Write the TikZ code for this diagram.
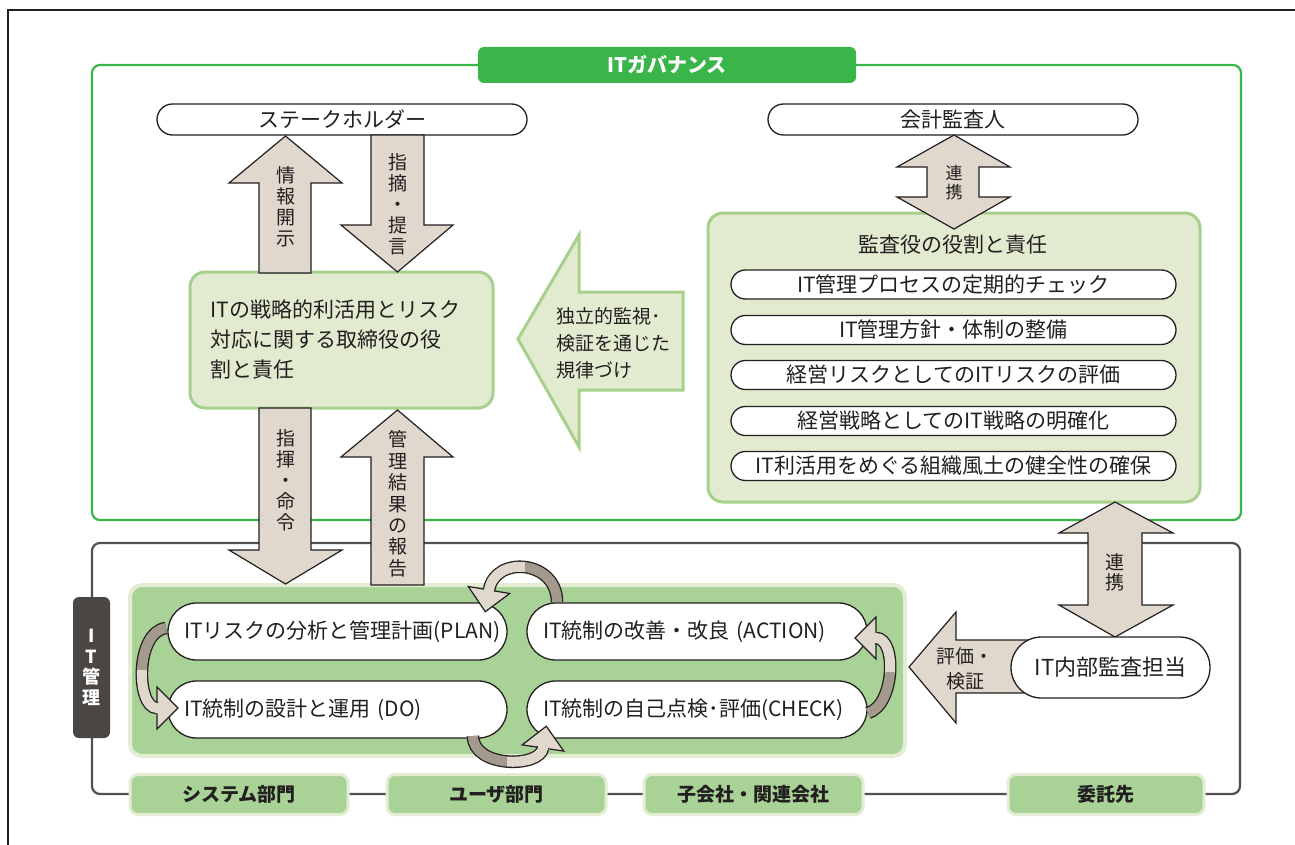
\documentclass[tikz,border=0pt]{standalone}
\usepackage{fontspec}
\setmainfont{Noto Sans CJK JP}
\definecolor{govgreen}{HTML}{3AB54A}
\definecolor{palegreen}{HTML}{E2EBCF}
\definecolor{paleedge}{HTML}{A8D08D}
\definecolor{midgreen}{HTML}{A9D297}
\definecolor{midedge}{HTML}{E3EDD3}
\definecolor{arrowfill}{HTML}{E0D8CC}
\definecolor{arrowdark}{HTML}{A39A8D}
\definecolor{itgray}{HTML}{505050}
\definecolor{labelgray}{HTML}{4A4643}
\definecolor{ink}{HTML}{231F20}
\tikzset{
  pill/.style={draw=ink, fill=white, line width=1.3, inner sep=0, text=ink, font=\fontsize{21}{25}\selectfont},
  bigbox/.style={draw=paleedge, fill=palegreen, line width=3, rounded corners=15},
  blockarrow/.style={draw=ink, fill=arrowfill, line width=1.2, line join=miter},
  vtext/.style={align=center, inner sep=0, text=ink, font=\fontsize{19}{21}\selectfont},
  deptbox/.style={draw=midedge, fill=midgreen, line width=3, rounded corners=8, minimum height=40, inner sep=0, text=ink, font=\bfseries\fontsize{19}{23}\selectfont},
  bandout/.style={draw=ink, line width=12.6},
  banddark/.style={draw=arrowdark, line width=10},
  bandlight/.style={draw=arrowfill, line width=10},
  curvehead/.style={fill=arrowfill, draw=ink, line width=1.2, line join=miter}
}
\begin{document}
\begin{tikzpicture}[x=1pt,y=-1pt]
\useasboundingbox (0,0) rectangle (1295,845);
% outer frame
\draw[ink, line width=1.8] (8,845) -- (8,10) -- (1295,10);
% governance frame
\draw[govgreen, line width=2.2, rounded corners=8] (92,65) rectangle (1241,520);
\node[fill=govgreen, rounded corners=6, minimum width=378, minimum height=36, inner sep=0, text=white, font=\bfseries\fontsize{20}{24}\selectfont] (gov) at (667,65) {ITガバナンス};
% IT management frame
\draw[itgray, line width=2.2, rounded corners=8] (92,543) rectangle (1240,794);

% top pills
\node[pill, minimum width=370, minimum height=31, rounded corners=15.5] (stake) at (342,119.5) {ステークホルダー};
\node[pill, minimum width=370, minimum height=31, rounded corners=15.5] (kaikei) at (953,119.5) {会計監査人};

% board box
\node[bigbox, minimum width=303, minimum height=136, text width=262, align=left, inner sep=0, text=ink, font=\fontsize{21}{30}\selectfont] (board) at (341.5,340) {ITの戦略的利活用とリスク\\対応に関する取締役の役\\割と責任};

% auditor box
\node[bigbox, minimum width=492, minimum height=289, inner sep=0] (audbox) at (954,357.5) {};
\node[text=ink, inner sep=0, font=\fontsize{21}{24}\selectfont] (audtitle) at (953,245) {監査役の役割と責任};
\node[pill, minimum width=445, minimum height=29, rounded corners=14.5] (a1) at (953.5,284.5) {IT管理プロセスの定期的チェック};
\node[pill, minimum width=445, minimum height=29, rounded corners=14.5] (a2) at (953.5,330) {IT管理方針・体制の整備};
\node[pill, minimum width=445, minimum height=29, rounded corners=14.5] (a3) at (953.5,375) {経営リスクとしてのITリスクの評価};
\node[pill, minimum width=445, minimum height=29, rounded corners=14.5] (a4) at (953.5,421) {経営戦略としてのIT戦略の明確化};
\node[pill, minimum width=445, minimum height=29, rounded corners=14.5] (a5) at (953.5,466) {IT利活用をめぐる組織風土の健全性の確保};

% block arrows (governance)
\draw[blockarrow] (259,273) -- (259,183) -- (229,183) -- (285.5,136) -- (342,183) -- (311,183) -- (311,273) -- cycle;
\node[vtext] (t1) at (286,206.5) {情\\報\\開\\示};
\draw[blockarrow] (371,135) -- (371,225) -- (341,225) -- (397.5,272) -- (453,225) -- (424,225) -- (424,135) -- cycle;
\node[vtext] (t2) at (397.5,204.5) {指\\摘\\・\\提\\言};
\draw[blockarrow] (954,135) -- (1010,167) -- (979,167) -- (979,197) -- (1010,197) -- (954,229) -- (897,197) -- (927,197) -- (927,167) -- (897,167) -- cycle;
\node[vtext, font=\fontsize{17}{19}\selectfont] (t3) at (954,182.5) {連\\携};

% independent monitoring arrow
\draw[draw=paleedge, fill=palegreen, line width=3, line join=miter] (518,339) -- (579,235) -- (579,292) -- (683,292) -- (683,390) -- (579,390) -- (579,447) -- cycle;
\node[align=left, anchor=west, inner sep=0, text=ink, font=\fontsize{19}{27}\selectfont] (indep) at (556,343) {独立的監視･\\検証を通じた\\規律づけ};

% inner PDCA box
\node[draw=midedge, fill=midgreen, line width=4, rounded corners=12, minimum width=775, minimum height=171, inner sep=0] (pdca) at (517.5,670.5) {};
\draw[blockarrow] (259,408) -- (259,550) -- (229,550) -- (285.5,584) -- (342,550) -- (311,550) -- (311,408) -- cycle;
\node[vtext] (t4) at (285.5,480.5) {指\\揮\\・\\命\\令};
\draw[blockarrow] (371,585) -- (371,457) -- (341,457) -- (397.5,410) -- (453,457) -- (424,457) -- (424,585) -- cycle;
\node[vtext, font=\fontsize{19}{21.4}\selectfont] (t5) at (397.5,504) {管\\理\\結\\果\\の\\報\\告};

\node[pill, minimum width=339, minimum height=57, rounded corners=28.5, text width=307, align=left, inner xsep=16] (plan) at (337.5,631.5) {ITリスクの分析と管理計画(PLAN)};
\node[pill, minimum width=339, minimum height=57, rounded corners=28.5, text width=307, align=left, inner xsep=16] (do) at (337.5,709.5) {IT統制の設計と運用 (DO)};
\node[pill, minimum width=340, minimum height=57, rounded corners=28.5, text width=308, align=left, inner xsep=16] (act) at (697,631.5) {IT統制の改善・改良 (ACTION)};
\node[pill, minimum width=340, minimum height=57, rounded corners=28.5, text width=308, align=left, inner xsep=16] (chk) at (697,709.5) {IT統制の自己点検･評価(CHECK)};

% curved cycle arrows
% ACTION -> PLAN (top)
\filldraw[curvehead] (509.7,593.5) -- (485.3,611.7) -- (468.3,586.5) -- cycle;
\draw[bandout] (557,602) .. controls (557,581) and (541.5,569.25) .. (525.25,567.1) .. controls (509,565) and (492,572.5) .. (489,590);
\draw[banddark] (557,602) .. controls (557,581) and (541.5,569.25) .. (525.25,567.1);
\draw[bandlight] (525.25,567.1) .. controls (509,565) and (492,572.5) .. (489,590) -- (488.6,592.5);
% DO -> CHECK (bottom)
\filldraw[curvehead] (563.8,751.1) -- (546.3,726.2) -- (522.2,744.9) -- cycle;
\draw[bandout] (473,736) .. controls (473,752) and (489.75,760) .. (506.9,761.5) .. controls (524,763) and (541.5,758) .. (543,748);
\draw[banddark] (473,736) .. controls (473,752) and (489.75,760) .. (506.9,761.5);
\draw[bandlight] (506.9,761.5) .. controls (524,763) and (541.5,758) .. (543,748) -- (543.4,745.5);
% CHECK -> ACTION (right)
\filldraw[curvehead] (876,617) -- (855,638) -- (876,659) -- cycle;
\draw[bandout] (868,713) .. controls (881.5,709) and (888.75,690.25) .. (890,672.5) .. controls (891.25,654.75) and (886.5,638) .. (876,638);
\draw[banddark] (868,713) .. controls (881.5,709) and (888.75,690.25) .. (890,672.5);
\draw[bandlight] (890,672.5) .. controls (891.25,654.75) and (886.5,638) .. (876,638) -- (873.5,638);
% PLAN -> DO (left)
\filldraw[curvehead] (157,687) -- (178,708) -- (157,729) -- cycle;
\draw[bandout] (166,628) .. controls (150.5,630) and (143,650) .. (142,669.5) .. controls (141,689) and (146.5,708) .. (157,708);
\draw[banddark] (166,628) .. controls (150.5,630) and (143,650) .. (142,669.5);
\draw[bandlight] (142,669.5) .. controls (141,689) and (146.5,708) .. (157,708) -- (159.5,708);

% right side: internal audit
\draw[blockarrow] (909,667) -- (956,612) -- (956,640) -- (1045,640) -- (1045,693) -- (956,693) -- (956,723) -- cycle;
\node[align=center, inner sep=0, text=ink, font=\fontsize{19}{25}\selectfont] (evaltxt) at (965,669) {評価・\\検証};
\draw[blockarrow] (1115,502) -- (1173,533) -- (1142,533) -- (1142,605) -- (1173,605) -- (1115,637) -- (1059,605) -- (1088,605) -- (1088,533) -- (1059,533) -- cycle;
\node[vtext, font=\fontsize{19}{20}\selectfont] (t6) at (1115,572) {連\\携};
\node[pill, minimum width=199, minimum height=61, rounded corners=30.5, font=\fontsize{22}{26}\selectfont] (naibu) at (1110.5,667.5) {IT内部監査担当};

% IT management label
\node[fill=labelgray, rounded corners=6, minimum width=37, minimum height=141, inner sep=0, text=white, align=center, font=\bfseries\fontsize{18}{20.5}\selectfont] (itm) at (91.5,667.5) {I\\T\\管\\理};

% departments
\node[deptbox, minimum width=218] (d1) at (239,794.5) {システム部門};
\node[deptbox, minimum width=219] (d2) at (496.5,794.5) {ユーザ部門};
\node[deptbox, minimum width=219] (d3) at (753.5,794.5) {子会社・関連会社};
\node[deptbox, minimum width=196] (d4) at (1106,794.5) {委託先};
\end{tikzpicture}
\end{document}
